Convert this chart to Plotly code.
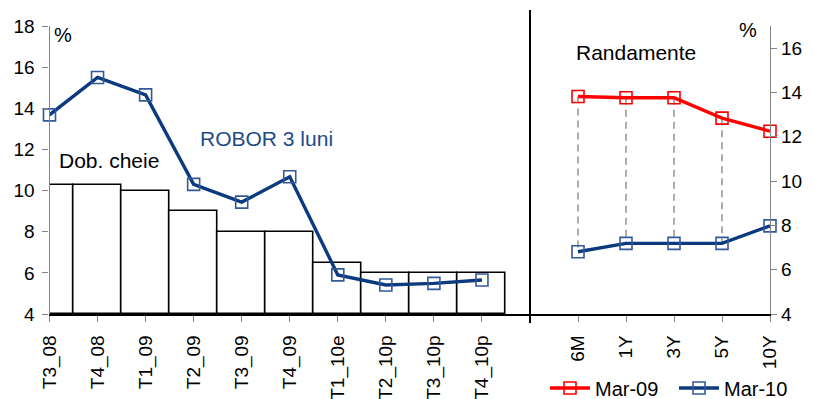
import plotly.graph_objects as go

# --- data ---------------------------------------------------------------
quarters = ["T3_08", "T4_08", "T1_09", "T2_09", "T3_09", "T4_09",
            "T1_10e", "T2_10p", "T3_10p", "T4_10p"]
policy_rate = [10.25, 10.25, 10.0, 9.0, 8.0, 8.0, 6.5, 6.0, 6.0, 6.0]
robor_3m = [13.68, 15.5, 14.65, 10.3, 9.44, 10.67, 5.9, 5.41, 5.49, 5.65]

maturities = ["6M", "1Y", "3Y", "5Y", "10Y"]
yields_mar09 = [13.82, 13.76, 13.76, 12.84, 12.25]
yields_mar10 = [6.81, 7.19, 7.19, 7.19, 7.98]

left_yticks = [4, 6, 8, 10, 12, 14, 16, 18]
right_yticks = [4, 6, 8, 10, 12, 14, 16]

# --- style ----------------------------------------------------------------
W, H = 814, 399
FONT = "Liberation Sans, Arial, sans-serif"
NAVY = "#0B3B7E"
NAVY_MARK = "#34599A"
RED = "#FF0000"
GRAY = "#858585"
DASH_GRAY = "#8A8A8A"

def px_x(p):
    return p / W

def px_y(p):
    return 1 - p / H

x1_dom = [px_x(49.5), px_x(530)]
x2_dom = [px_x(530), px_x(770)]
y_dom = [px_y(314), px_y(26)]

fig = go.Figure()

# key rate bars (left panel)
fig.add_trace(go.Bar(
    x=quarters, y=[v - 4 for v in policy_rate], base=4,
    marker=dict(color="white", line=dict(color="black", width=1.6)),
    width=1.0, xaxis="x", yaxis="y", showlegend=False, hoverinfo="skip",
))

# ROBOR 3M line
fig.add_trace(go.Scatter(
    x=quarters, y=robor_3m, mode="lines+markers",
    line=dict(color=NAVY, width=3.4),
    marker=dict(symbol="square-open", size=12, color=NAVY_MARK,
                line=dict(width=1.6, color=NAVY_MARK)),
    xaxis="x", yaxis="y", showlegend=False, cliponaxis=False,
))

# dashed high-low connectors between the two yield curves
# (the 10Y one sits on the right axis line)
hl_x, hl_y = [], []
for m, a, b in zip(maturities[:-1], yields_mar09[:-1], yields_mar10[:-1]):
    hl_x += [m, m, None]
    hl_y += [a, b, None]
fig.add_trace(go.Scatter(
    x=hl_x, y=hl_y, mode="lines",
    line=dict(color=DASH_GRAY, width=1.4, dash="7px,5px"),
    xaxis="x2", yaxis="y2", showlegend=False, hoverinfo="skip",
))

fig.add_trace(go.Scatter(
    x=maturities, y=yields_mar09, mode="lines+markers", name="Mar-09",
    line=dict(color=RED, width=3.4),
    marker=dict(symbol="square-open", size=12, color=RED,
                line=dict(width=1.6, color=RED)),
    xaxis="x2", yaxis="y2", cliponaxis=False,
))
fig.add_trace(go.Scatter(
    x=maturities, y=yields_mar10, mode="lines+markers", name="Mar-10",
    line=dict(color=NAVY, width=3.4),
    marker=dict(symbol="square-open", size=12, color=NAVY_MARK,
                line=dict(width=1.6, color=NAVY_MARK)),
    xaxis="x2", yaxis="y2", cliponaxis=False,
))

tickfont = dict(family=FONT, size=19, color="black")

fig.update_layout(
    width=W, height=H,
    margin=dict(l=0, r=0, t=0, b=0, autoexpand=False),
    paper_bgcolor="white", plot_bgcolor="white",
    bargap=0,
    font=dict(family=FONT, color="black"),
    xaxis=dict(
        domain=x1_dom, anchor="y", type="category",
        categoryorder="array", categoryarray=quarters,
        range=[0, 10], showgrid=False, zeroline=False, automargin=False,
        showline=True, linecolor="black", linewidth=1.5,
        ticks="outside", ticklen=6, tickcolor=GRAY, tickwidth=1,
        ticklabelstandoff=6,
        tickangle=-90, tickfont=dict(family=FONT, size=19, color="black"),
    ),
    yaxis=dict(
        domain=y_dom, anchor="x", range=[4, 18], automargin=False,
        tickvals=left_yticks, showgrid=False, zeroline=False,
        showline=True, linecolor=GRAY, linewidth=1.2,
        ticks="outside", ticklen=6, tickcolor=GRAY, tickwidth=1,
        ticklabelstandoff=4,
        tickfont=tickfont,
    ),
    xaxis2=dict(
        domain=x2_dom, anchor="y2", type="category",
        categoryorder="array", categoryarray=maturities,
        range=[-1, 4], showgrid=False, zeroline=False, automargin=False,
        showline=True, linecolor="black", linewidth=1.5,
        ticks="outside", ticklen=6, tickcolor=GRAY, tickwidth=1,
        ticklabelstandoff=6,
        tickangle=-90, tickfont=dict(family=FONT, size=19, color="black"),
    ),
    yaxis2=dict(
        domain=y_dom, anchor="x2", side="right", range=[4, 17],
        tickvals=right_yticks, showgrid=False, zeroline=False, automargin=False,
        showline=True, linecolor=GRAY, linewidth=1.2,
        ticks="outside", ticklen=6, tickcolor=GRAY, tickwidth=1,
        tickfont=tickfont,
    ),
    legend=dict(
        orientation="h", x=px_x(545), xanchor="left",
        y=px_y(388), yanchor="middle",
        font=dict(family=FONT, size=20, color="black"),
        bgcolor="rgba(0,0,0,0)", itemwidth=40, tracegroupgap=0,
        entrywidth=74, entrywidthmode="pixels",
    ),
    showlegend=True,
)

# panel divider
fig.add_shape(type="line", xref="paper", yref="paper",
              x0=px_x(530), x1=px_x(530), y0=px_y(10), y1=px_y(323),
              line=dict(color="black", width=2))

ann = [
    dict(text="%", x=px_x(63), y=px_y(35), size=20, color="black"),
    dict(text="%", x=px_x(748), y=px_y(30), size=20, color="black"),
    dict(text="Dob. cheie", x=px_x(109), y=px_y(160), size=21, color="black"),
    dict(text="ROBOR 3 luni", x=px_x(266), y=px_y(138), size=21, color="#1F4A8A"),
    dict(text="Randamente", x=px_x(636), y=px_y(53), size=21, color="black"),
]
for a in ann:
    fig.add_annotation(
        text=a["text"], x=a["x"], y=a["y"], xref="paper", yref="paper",
        xanchor="center", yanchor="middle", showarrow=False,
        font=dict(family=FONT, size=a["size"], color=a["color"]),
    )

fig.write_html("out.html")
